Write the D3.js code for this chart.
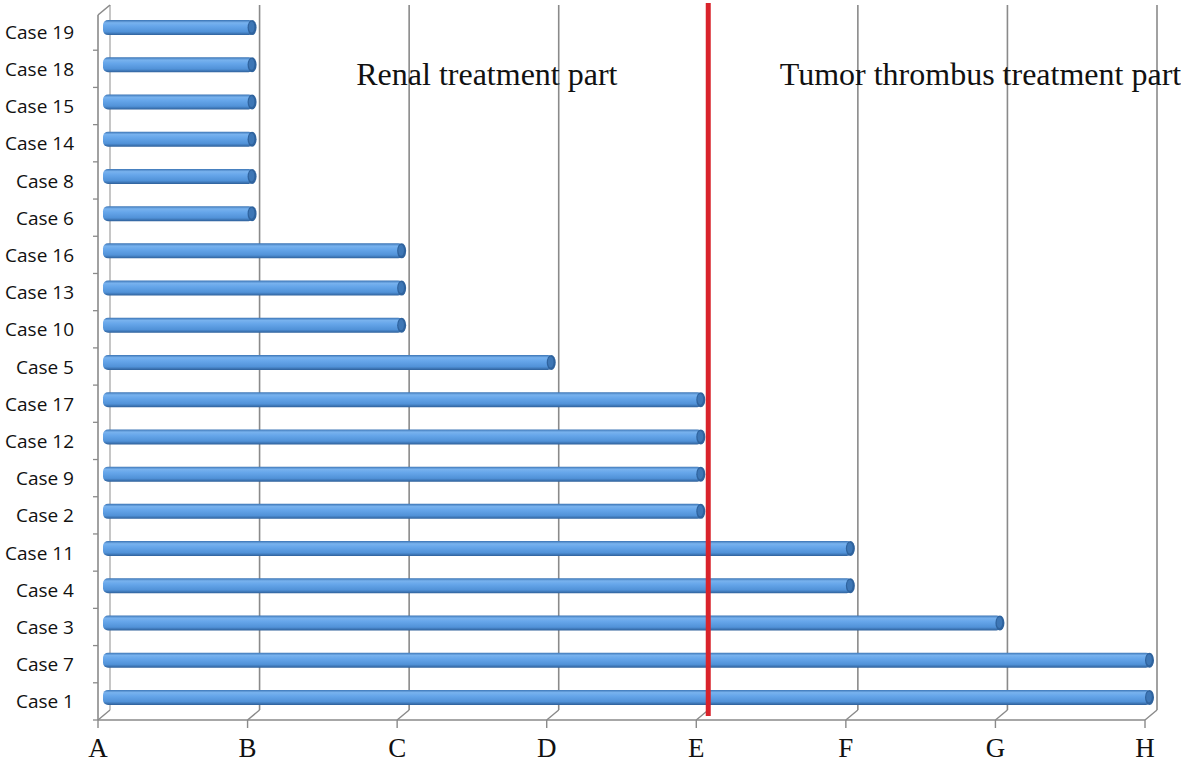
<!DOCTYPE html>
<html><head><meta charset="utf-8">
<script src="https://cdn.jsdelivr.net/npm/d3@7"></script>
<style>body{margin:0;background:#fff}svg{display:block}</style>
</head><body>
<svg id="c" width="1181" height="763"></svg>
<script>
const cases = ["Case 19","Case 18","Case 15","Case 14","Case 8","Case 6","Case 16","Case 13","Case 10","Case 5","Case 17","Case 12","Case 9","Case 2","Case 11","Case 4","Case 3","Case 7","Case 1"];
const values = [1,1,1,1,1,1,2,2,2,3,4,4,4,4,5,5,6,7,7];
const tickLabels = ["A","B","C","D","E","F","G","H"];
const dividerValue = 4.08;
const partLabels = ["Renal treatment part","Tumor thrombus treatment part"];
const partCenters = [2.6, 5.9];

const svg = d3.select("#c");
const x = d3.scaleLinear().domain([0,7]).range([98,1145]);
const y = d3.scaleBand().domain(cases).range([13,720]);
const DX = 12, DY = -10; // depth offset of back wall
const bx = 8, by = -4;   // bar depth offset

const defs = svg.append("defs");
const g = defs.append("linearGradient").attr("id","cyl").attr("x1",0).attr("y1",0).attr("x2",0).attr("y2",1);
g.append("stop").attr("offset","0%").attr("stop-color","#3b74b4");
g.append("stop").attr("offset","18%").attr("stop-color","#78b2ee");
g.append("stop").attr("offset","40%").attr("stop-color","#66a6ea");
g.append("stop").attr("offset","78%").attr("stop-color","#5192d8");
g.append("stop").attr("offset","100%").attr("stop-color","#2e609a");

const gridColor = "#8a8a8a";
const wallTop = 5, backBottom = 720 + DY;
d3.range(0,8).forEach(i=>{
  const xf = x(i), xb = x(i)+DX;
  svg.append("line").attr("x1",xb).attr("x2",xb).attr("y1",wallTop).attr("y2",backBottom)
    .attr("stroke",i>0?gridColor:"#a8a8a8").attr("stroke-width",i>0?1.6:1.3);
  svg.append("line").attr("x1",xb).attr("y1",backBottom).attr("x2",xf).attr("y2",720)
    .attr("stroke",gridColor).attr("stroke-width",1.4);
  svg.append("line").attr("x1",xf).attr("x2",xf).attr("y1",720).attr("y2",728)
    .attr("stroke",gridColor).attr("stroke-width",1.4);
});
svg.append("line").attr("x1",x(0)).attr("x2",x(7)).attr("y1",720).attr("y2",720)
  .attr("stroke",gridColor).attr("stroke-width",1.4);
svg.append("line").attr("x1",x(0)).attr("x2",x(0)).attr("y1",15).attr("y2",720)
  .attr("stroke",gridColor).attr("stroke-width",1.6);
svg.append("line").attr("x1",x(0)).attr("y1",15).attr("x2",x(0)+DX).attr("y2",wallTop)
  .attr("stroke",gridColor).attr("stroke-width",1.6);
cases.forEach((c,i)=>{
  const yy = y(c)+y.bandwidth();
  svg.append("line").attr("x1",x(0)-5).attr("x2",x(0)).attr("y1",yy).attr("y2",yy)
    .attr("stroke",gridColor).attr("stroke-width",1.3);
});

const H = 15;
const bars = svg.append("g");
cases.forEach((c,i)=>{
  const cy = y(c)+y.bandwidth()/2 + by;
  const x0 = x(0)+bx-3, x1 = x(values[i])+bx;
  bars.append("rect").attr("x",x0).attr("y",cy-H/2).attr("width",x1-x0-2).attr("height",H)
    .attr("rx",5).attr("fill","url(#cyl)");
  bars.append("ellipse").attr("cx",x1-3.5).attr("cy",cy).attr("rx",4.5).attr("ry",H/2)
    .attr("fill","#2f639e");
  bars.append("ellipse").attr("cx",x1-4).attr("cy",cy-0.5).attr("rx",2.8).attr("ry",H/2-2)
    .attr("fill","#3e77b6");
});

svg.append("g").selectAll("text").data(cases).join("text")
  .attr("x",74).attr("y",d=>y(d)+y.bandwidth()/2+2)
  .attr("text-anchor","end").attr("dominant-baseline","middle")
  .attr("font-family","'Open Sans', sans-serif").attr("font-size",19).attr("fill","#111")
  .text(d=>d);

svg.append("g").selectAll("text").data(tickLabels).join("text")
  .attr("x",(d,i)=>x(i)).attr("y",757).attr("text-anchor","middle")
  .attr("font-family","'Liberation Serif', 'Times New Roman', serif").attr("font-size",27).attr("fill","#111")
  .text(d=>d);

svg.append("line").attr("x1",x(dividerValue)).attr("x2",x(dividerValue)).attr("y1",3).attr("y2",716)
  .attr("stroke","#d9232b").attr("stroke-width",5);

svg.append("g").selectAll("text").data(partLabels).join("text")
  .attr("x",(d,i)=>x(partCenters[i])).attr("y",85).attr("text-anchor","middle")
  .attr("font-family","'Liberation Serif', 'Times New Roman', serif").attr("font-size",32).attr("fill","#111")
  .text(d=>d);
</script>
</body></html>
